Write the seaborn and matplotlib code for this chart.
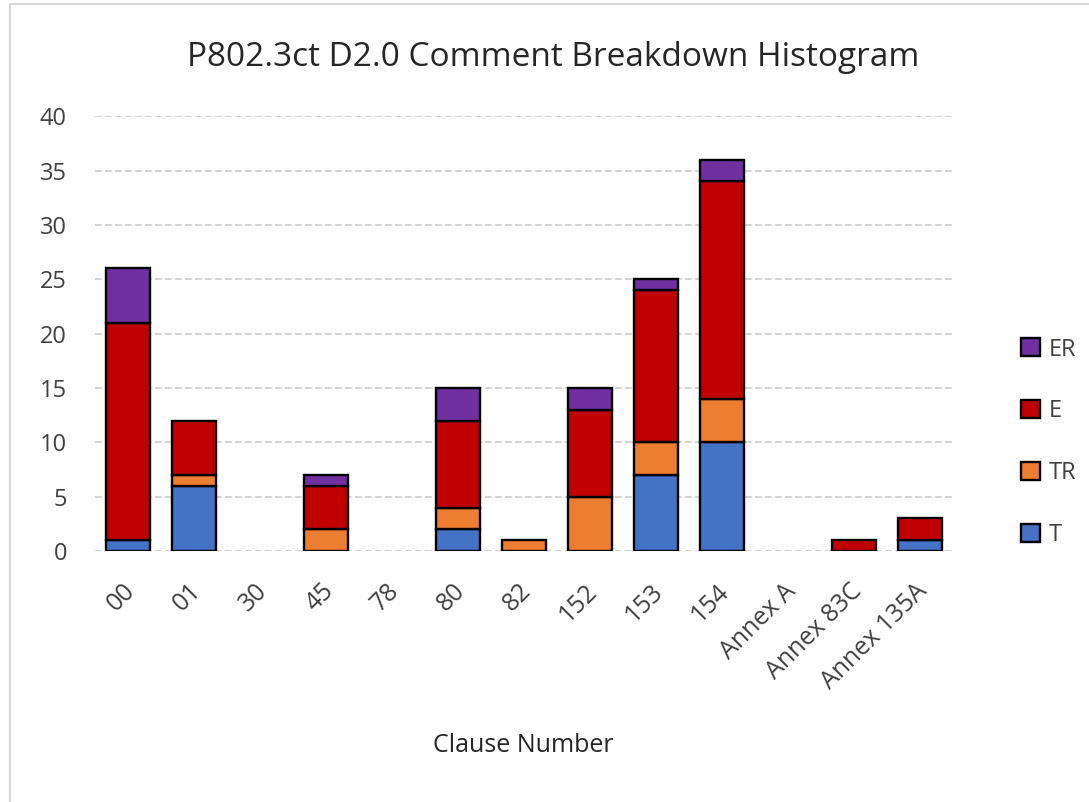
import matplotlib
matplotlib.use("Agg")
import matplotlib.pyplot as plt
import matplotlib.transforms as mtransforms
from matplotlib.lines import Line2D
from matplotlib.patches import Patch
import seaborn as sns
import numpy as np

clauses = ["00", "01", "30", "45", "78", "80", "82", "152", "153", "154",
           "Annex A", "Annex 83C", "Annex 135A"]
t_counts = [1, 6, 0, 0, 0, 2, 0, 0, 7, 10, 0, 0, 1]
tr_counts = [0, 1, 0, 2, 0, 2, 1, 5, 3, 4, 0, 0, 0]
e_counts = [20, 5, 0, 4, 0, 8, 0, 8, 14, 20, 0, 1, 2]
er_counts = [5, 0, 0, 1, 0, 3, 0, 2, 1, 2, 0, 0, 0]

layers = [("T", t_counts, "#4472c4"),
          ("TR", tr_counts, "#ed7d31"),
          ("E", e_counts, "#c00000"),
          ("ER", er_counts, "#7030a0")]

sns.set_theme(style="white")
plt.rcParams["font.family"] = ["Open Sans", "DejaVu Sans"]

fig = plt.figure(figsize=(10.89, 8.02), dpi=100)
ax = fig.add_axes([0.087, 0.313, 0.788, 0.542])

bottom = np.zeros(len(clauses))
for name, vals, col in layers:
    sns.barplot(x=clauses, y=vals, bottom=bottom, color=col, width=0.67,
                saturation=1, edgecolor="black", linewidth=1.7, errorbar=None,
                ax=ax, zorder=3)
    bottom = bottom + np.array(vals)

# hide zero-height segments
for p in ax.patches:
    if p.get_height() == 0:
        p.set_visible(False)

ax.set_ylim(0, 40)
ax.set_xlim(-0.5, len(clauses) - 0.5)
ax.set_yticks(range(0, 41, 5))
ax.yaxis.grid(True, color="#cccccc", linestyle=(0, (4, 2)), linewidth=1.2, zorder=0)
ax.set_axisbelow(True)
for s in ax.spines.values():
    s.set_visible(False)
ax.tick_params(axis="both", length=0, colors="#404040")
ax.tick_params(axis="y", pad=20, labelsize=17)
ax.tick_params(axis="x", pad=20, labelsize=18)
shift = mtransforms.ScaledTranslation(-5 / 100, 0, fig.dpi_scale_trans)
for lab in ax.get_xticklabels():
    lab.set_rotation(45)
    lab.set_ha("right")
    lab.set_rotation_mode("anchor")
    lab.set_transform(lab.get_transform() + shift)

ax.set_xlabel("Clause Number", fontsize=18, color="#262626", labelpad=28)
ax.set_ylabel("")
ax.set_title("P802.3ct D2.0 Comment Breakdown Histogram", fontsize=24,
             color="#262626", pad=36, x=0.534)

handles = [Patch(facecolor=col, edgecolor="black", linewidth=1.7)
           for _, _, col in layers][::-1]
labels = [name for name, _, _ in layers][::-1]
ax.legend(handles, labels, loc="center left",
          bbox_to_anchor=(1.055, 0.25), frameon=False, fontsize=17,
          handlelength=0.8, handleheight=0.8, handletextpad=0.35,
          labelspacing=1.6, labelcolor="#404040")

# chart border (top and left edges)
fig.add_artist(Line2D([0.009, 1.0], [0.995, 0.995], color="#d9d9d9", lw=1.5))
fig.add_artist(Line2D([0.009, 0.009], [0.0, 0.995], color="#d9d9d9", lw=1.5))

fig.savefig("out.png", dpi=100, facecolor="white")
